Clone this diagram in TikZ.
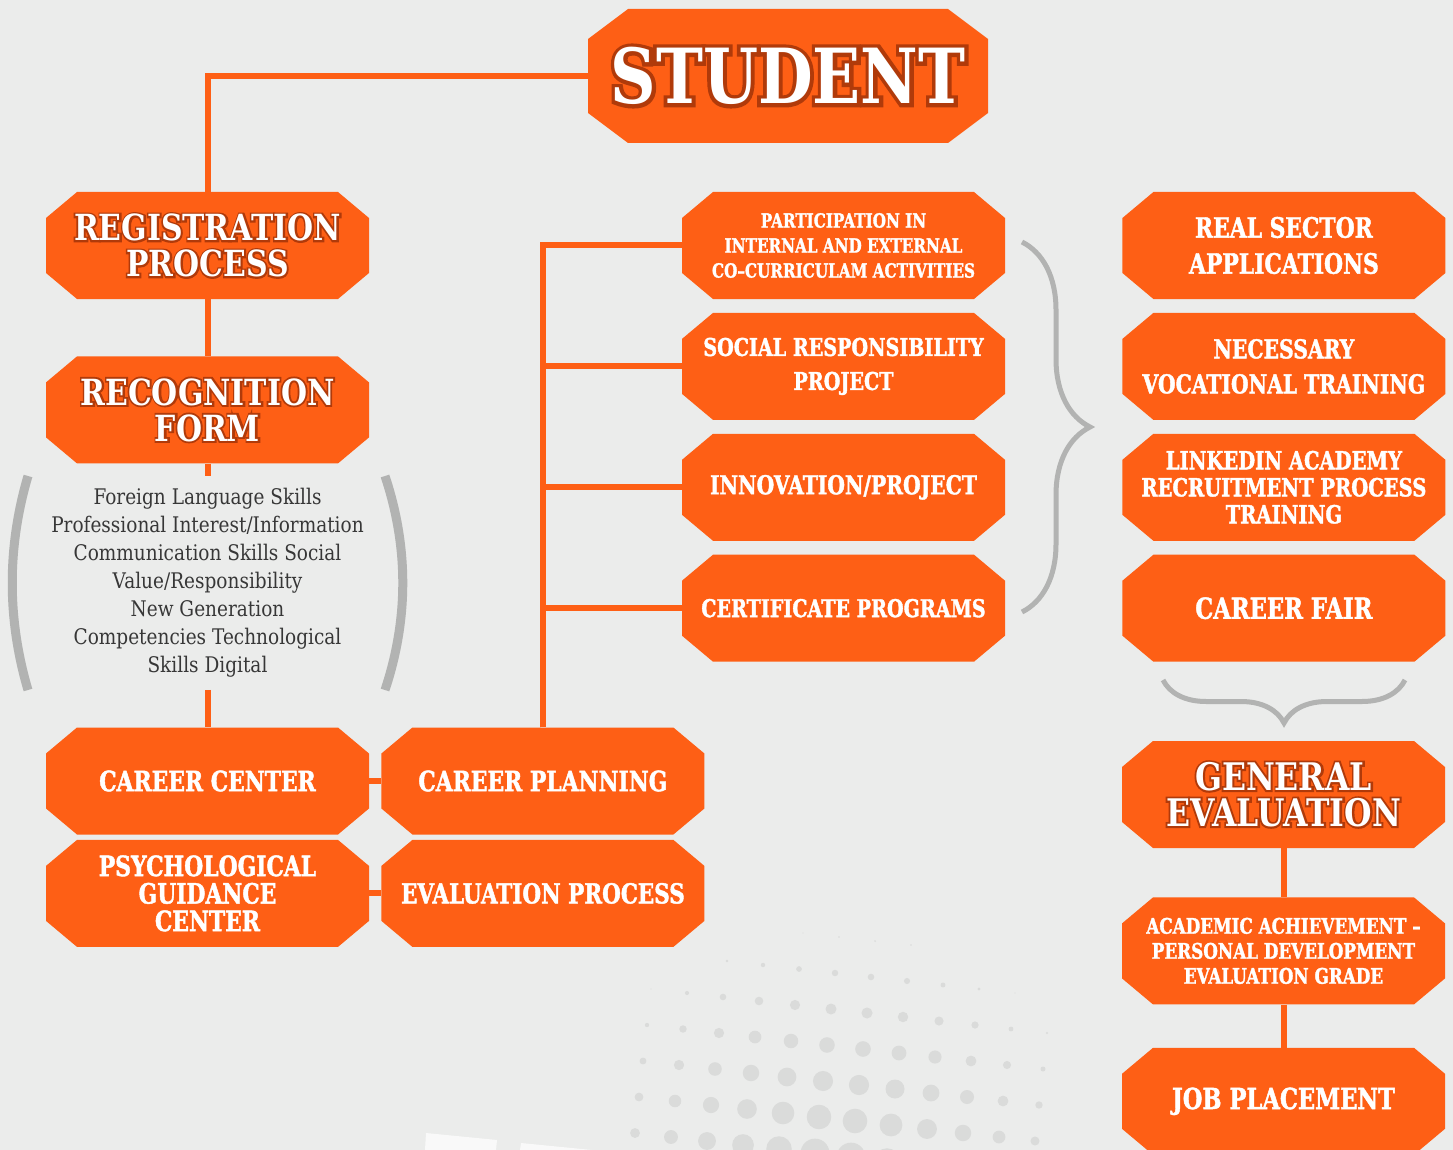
\documentclass[tikz,border=0pt]{standalone}
\usepackage{fontspec}
\setmainfont{DejaVu Serif}[FakeStretch=0.86]
\newfontfamily\slabfont{DejaVu Serif}[FakeStretch=0.78, FakeBold=1.5]
\newfontfamily\titlefont{DejaVu Serif}[FakeStretch=0.83]
\newfontfamily\glowfont{DejaVu Serif}[FakeStretch=0.83, FakeBold=10]
\usetikzlibrary{positioning,decorations.pathreplacing}

\definecolor{orng}{RGB}{254,95,21}
\definecolor{glowc}{RGB}{176,58,10}
\definecolor{bgc}{RGB}{235,236,235}
\definecolor{dotc}{RGB}{218,219,218}
\definecolor{brc}{RGB}{178,179,178}
\definecolor{txtc}{RGB}{55,55,55}

\newcommand{\glow}[1]{\rlap{\glowfont\textcolor{glowc}{#1}}#1}
\newcommand{\boxsize}[2]{\slabfont\bfseries\fontsize{#1}{#2}\selectfont}
\newcommand{\titlesize}[2]{\titlefont\bfseries\fontsize{#1}{#2}\selectfont}

\tikzset{
  chx/.store in=\chx, chy/.store in=\chy, chx=31pt, chy=26pt,
  box/.style={rectangle, inner sep=0pt, minimum width=323pt, minimum height=107pt,
    align=center, text=white,
    path picture={\fill[orng] ([xshift=\chx]path picture bounding box.north west)
      -- ([xshift=-\chx]path picture bounding box.north east)
      -- ([yshift=-\chy]path picture bounding box.north east)
      -- ([yshift=\chy]path picture bounding box.south east)
      -- ([xshift=-\chx]path picture bounding box.south east)
      -- ([xshift=\chx]path picture bounding box.south west)
      -- ([yshift=\chy]path picture bounding box.south west)
      -- ([yshift=-\chy]path picture bounding box.north west) -- cycle;}},
  link/.style={draw=orng, line width=6pt},
  paren/.style={draw=brc, line width=9pt},
  curly/.style={draw=brc, line width=5pt, decorate, decoration={brace, amplitude=#1}},
}

\begin{document}
\begin{tikzpicture}[x=1pt,y=-1pt]
\useasboundingbox (0,0) rectangle (1453,1150);
\clip (0,0) rectangle (1453,1150);
\fill[bgc] (0,0) rectangle (1453,1150);
% halftone dots
\foreach \i in {0,...,11}
  \foreach \j in {-2,...,4} {
    \pgfmathsetmacro{\dx}{651+36*\i-4*\j}
    \pgfmathsetmacro{\dy}{989+36*\j+4*\i}
    \pgfmathsetmacro{\dr}{16-0.055*veclen(\dx-830,1.15*(\dy-1175))}
    \ifdim\dr pt>0.4pt \fill[dotc] (\dx,\dy) circle[radius=\dr pt]; \fi
  }
\fill[white, opacity=0.7] (426,1133) -- (497,1140) -- (496,1150) -- (425,1150) -- cycle;
\fill[white, opacity=0.7] (521,1143) -- (592,1150) -- (520,1150) -- cycle;

\node[box, chx=40pt, chy=30pt, minimum width=400pt, minimum height=134pt, font=\titlesize{76}{80}] (stud) at (788,76) {\glow{STUDENT}};
\node[box, font=\titlesize{36}{36}] (reg) at (207.5,245.5) {\glow{REGISTRATION}\\\glow{PROCESS}};
\node[box, font=\titlesize{36}{36}, below=57pt of reg] (rec) {\glow{RECOGNITION}\\\glow{FORM}};
\node[text=txtc, align=center, inner ysep=12pt, font=\fontsize{21.5}{28}\selectfont] (skills) at (207.5,583)
  {Foreign Language Skills\\Professional Interest/Information\\Communication Skills Social\\Value/Responsibility\\New Generation\\Competencies Technological\\Skills Digital};
\node[box, font=\boxsize{28}{30}] (cc) at (207.5,781) {CAREER CENTER};
\node[box, font=\boxsize{28}{27.5}, below=5pt of cc] (psy) {PSYCHOLOGICAL\\GUIDANCE\\CENTER};
\node[box, font=\boxsize{28}{30}, right=12pt of cc] (plan) {CAREER PLANNING};
\node[box, font=\boxsize{27.5}{30}, right=12pt of psy] (eval) {EVALUATION PROCESS};

\node[box, font=\boxsize{19.5}{25}] (part) at (843.5,245.5) {PARTICIPATION IN\\INTERNAL AND EXTERNAL\\CO–CURRICULAM ACTIVITIES};
\node[box, font=\boxsize{24.5}{34}, below=13.5pt of part] (soc) {SOCIAL RESPONSIBILITY\\PROJECT};
\node[box, font=\boxsize{26}{30}, below=13.5pt of soc] (inno) {INNOVATION/PROJECT};
\node[box, font=\boxsize{24.5}{30}, below=13.5pt of inno] (cert) {CERTIFICATE PROGRAMS};

\node[box, font=\boxsize{28}{36}, right=117pt of part] (real) {REAL SECTOR\\APPLICATIONS};
\node[box, font=\boxsize{26}{35}, below=13.5pt of real] (nec) {NECESSARY\\VOCATIONAL TRAINING};
\node[box, font=\boxsize{25}{27}, below=13.5pt of nec] (lnk) {LINKEDIN ACADEMY\\RECRUITMENT PROCESS\\TRAINING};
\node[box, font=\boxsize{29}{30}, below=13.5pt of lnk] (fair) {CAREER FAIR};
\node[box, font=\titlesize{38}{36}] (gen) at (1283.5,794.5) {\glow{GENERAL}\\\glow{EVALUATION}};
\node[box, font=\boxsize{21.5}{25}, below=49pt of gen] (acad) {ACADEMIC ACHIEVEMENT –\\PERSONAL DEVELOPMENT\\EVALUATION GRADE};
\node[box, font=\boxsize{29}{30}, below=43pt of acad] (job) {JOB PLACEMENT};

\draw[link] (stud.west) -| (reg.north);
\draw[link] (reg) -- (rec);
\draw[link] (rec) -- (skills);
\draw[link] (skills) -- (cc);
\draw[link] (cc) -- (plan);
\draw[link] (psy) -- (eval);
\foreach \t in {part,soc,inno,cert}
  \draw[link] (plan.north) |- (\t.west);
\draw[link] (gen) -- (acad);
\draw[link] (acad) -- (job);

\draw[paren] (28,476) .. controls (7,547) and (7,619) .. (28,690);
\draw[paren] (385,476) .. controls (408.7,547) and (408.7,619) .. (385,690);
\draw[curly=68pt] (1022,242) -- (1022,612);
\draw[curly=43pt] (1405,680) -- (1163,680);
\end{tikzpicture}
\end{document}
